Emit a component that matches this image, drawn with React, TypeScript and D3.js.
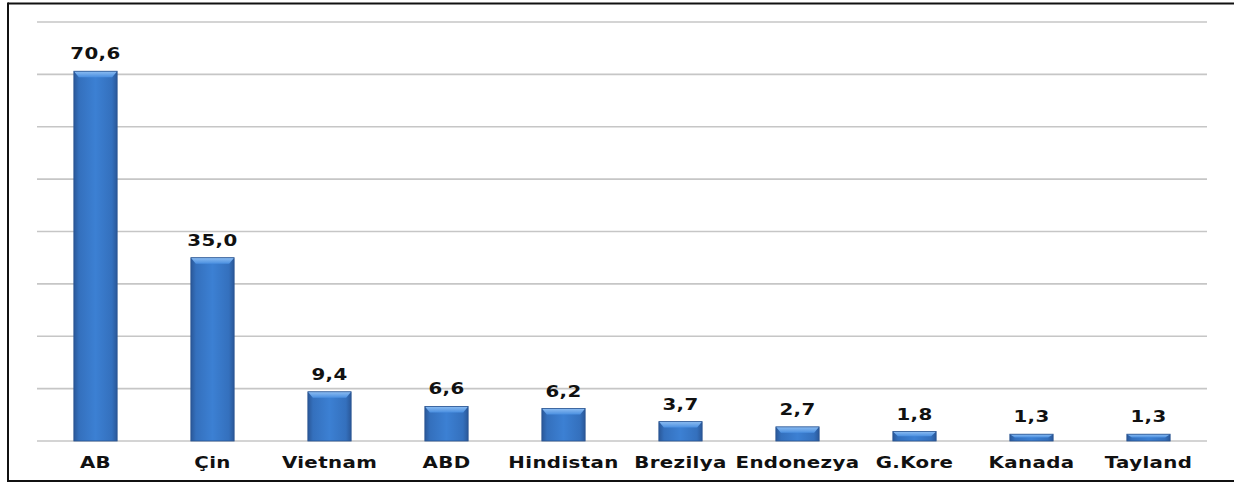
import React from "react";
import * as d3 from "d3";

const categories = ["AB", "Çin", "Vietnam", "ABD", "Hindistan", "Brezilya", "Endonezya", "G.Kore", "Kanada", "Tayland"];
const values = [70.6, 35.0, 9.4, 6.6, 6.2, 3.7, 2.7, 1.8, 1.3, 1.3];
const gridTicks = [0, 10, 20, 30, 40, 50, 60, 70, 80];

const W = 1234;
const H = 484;
const FONT = "'DejaVu Sans', Verdana, sans-serif";

export default function App() {
  const x = d3.scaleBand<string>().domain(categories).range([37, 1207]).paddingInner(0.63).paddingOuter(0.315);
  const y = d3.scaleLinear().domain([0, 80]).range([441, 22]);
  const fmt = (v: number) => v.toFixed(1).replace(".", ",");
  const bw = x.bandwidth();

  return (
    <svg width={W} height={H} style={{ position: "absolute", left: 0, top: 0, background: "#fff" }}>
      <defs>
        <linearGradient id="barH" x1="0" x2="1" y1="0" y2="0">
          <stop offset="0%" stopColor="#2a5899" />
          <stop offset="12%" stopColor="#3470bd" />
          <stop offset="50%" stopColor="#3c80d3" />
          <stop offset="88%" stopColor="#3470bd" />
          <stop offset="100%" stopColor="#2a5899" />
        </linearGradient>
        <linearGradient id="bevel" x1="0" x2="0" y1="0" y2="1">
          <stop offset="0%" stopColor="#8dbdf2" />
          <stop offset="100%" stopColor="#4a8fe0" />
        </linearGradient>
      </defs>
      <rect x={0} y={0} width={W} height={H} fill="#fff" />
      {/* border */}
      <line x1={8} x2={W} y1={3.5} y2={3.5} stroke="#111" strokeWidth={2} />
      <line x1={8} x2={W} y1={481} y2={481} stroke="#111" strokeWidth={2} />
      <line x1={8} x2={8} y1={2.5} y2={482} stroke="#111" strokeWidth={2} />
      {/* gridlines */}
      {gridTicks.map((t) => (
        <line key={t} x1={37} x2={1207} y1={y(t)} y2={y(t)} stroke="#c6c6c6" strokeWidth={1.6} />
      ))}
      {/* bars */}
      {categories.map((c, i) => {
        const x0 = x(c)!;
        const top = y(values[i]);
        const h = y(0) - top;
        const bev = Math.min(6, h / 2);
        const side = Math.min(5, bw / 6);
        return (
          <g key={c}>
            <rect x={x0} y={top} width={bw} height={h} fill="url(#barH)" />
            <polygon
              points={`${x0},${top} ${x0 + bw},${top} ${x0 + bw - side},${top + bev} ${x0 + side},${top + bev}`}
              fill="url(#bevel)"
            />
            <rect x={x0} y={top} width={bw} height={h} fill="none" stroke="#2a5490" strokeWidth={0.8} />
          </g>
        );
      })}
      {/* value labels */}
      {categories.map((c, i) => (
        <text
          key={c}
          transform={`translate(${x(c)! + bw / 2},${y(values[i]) - 12}) scale(1.2,1)`}
          textAnchor="middle"
          fontFamily={FONT}
          fontWeight="bold"
          fontSize={16.5}
          letterSpacing={0.3}
          fill="#111"
        >
          {fmt(values[i])}
        </text>
      ))}
      {/* category labels */}
      {categories.map((c) => (
        <text
          key={c}
          transform={`translate(${x(c)! + bw / 2},468) scale(1.2,1)`}
          textAnchor="middle"
          fontFamily={FONT}
          fontWeight="bold"
          fontSize={16.5}
          letterSpacing={0.3}
          fill="#111"
        >
          {c}
        </text>
      ))}
    </svg>
  );
}
